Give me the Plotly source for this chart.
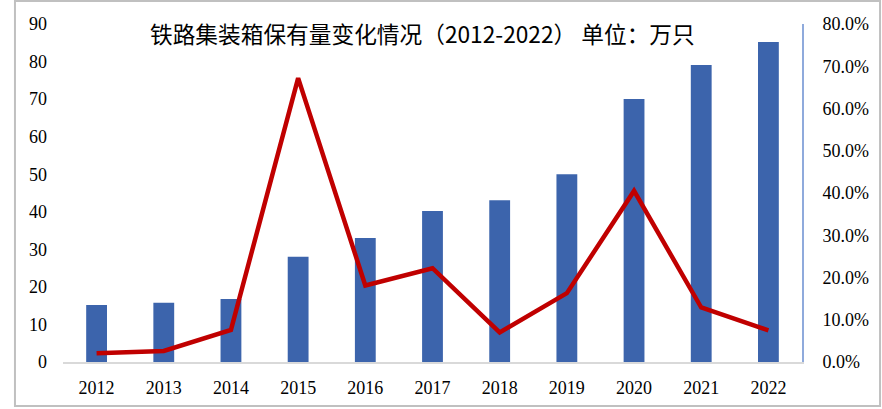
import plotly.graph_objects as go

years = ["2012", "2013", "2014", "2015", "2016", "2017", "2018", "2019", "2020", "2021", "2022"]
stock = [15.2, 15.8, 16.8, 28.0, 33.0, 40.2, 43.1, 50.0, 70.0, 79.1, 85.2]
growth = [0.021, 0.026, 0.076, 0.672, 0.181, 0.222, 0.070, 0.163, 0.405, 0.129, 0.075]
title_text = "铁路集装箱保有量变化情况（2012-2022） 单位：万只"

tick_font = dict(family="Liberation Serif", size=18, color="#000000")

fig = go.Figure()
fig.add_trace(go.Bar(x=years, y=stock, marker=dict(color="#3C64AC", line=dict(width=0)),
                     name="保有量", yaxis="y"))
fig.add_trace(go.Scatter(x=years, y=growth, mode="lines", line=dict(color="#C00000", width=4.5),
                         name="增长率", yaxis="y2"))

fig.update_layout(
    width=882, height=409,
    margin=dict(l=63, r=80, t=24, b=47),
    paper_bgcolor="white", plot_bgcolor="white",
    showlegend=False,
    bargap=0.69,
    font=dict(family="Liberation Serif"),
    xaxis=dict(type="category", showgrid=False, showline=True, linecolor="#D9D9D9", linewidth=2,
               ticks="", tickfont=tick_font, ticklabelstandoff=8),
    yaxis=dict(range=[0, 90], dtick=10, showgrid=False, showline=False, zeroline=False,
               ticks="", tickfont=tick_font, ticklabelstandoff=15),
    yaxis2=dict(range=[0, 0.8], dtick=0.1, tickformat=".1%", overlaying="y", side="right",
                showgrid=False, showline=True, linecolor="#8FAADC", linewidth=2, zeroline=False,
                ticks="", tickfont=tick_font, ticklabelstandoff=15),
    annotations=[dict(text=title_text, xref="paper", yref="paper", x=0.487, y=0.972,
                      xanchor="center", yanchor="middle", showarrow=False,
                      font=dict(family="Noto Sans CJK SC", size=22.7, color="#000000"))],
    shapes=[dict(type="rect", xref="paper", yref="paper", x0=-0.065, x1=1.1056, y0=-0.130, y1=1.068,
                 line=dict(color="#C0C0C0", width=2), fillcolor="rgba(0,0,0,0)", layer="below")],
)

fig.write_html("out.html", config={"displayModeBar": False},
               post_script="document.body.style.margin='0';")
